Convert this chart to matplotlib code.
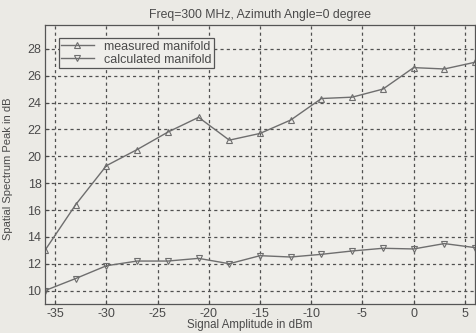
import matplotlib
matplotlib.use("Agg")
import matplotlib.pyplot as plt

plt.rcParams['font.family'] = ['Liberation Sans', 'DejaVu Sans']

amplitude = [-36, -33, -30, -27, -24, -21, -18, -15, -12, -9, -6, -3, 0, 3, 6]
measured = [13.0, 16.4, 19.3, 20.5, 21.8, 22.9, 21.2, 21.7, 22.7, 24.3, 24.4, 25.0, 26.6, 26.5, 27.0]
calculated = [10.0, 10.9, 11.85, 12.2, 12.2, 12.4, 12.0, 12.6, 12.5, 12.7, 12.95, 13.15, 13.1, 13.5, 13.2]
xticks = [-35, -30, -25, -20, -15, -10, -5, 0, 5]
yticks = [10, 12, 14, 16, 18, 20, 22, 24, 26, 28]

bg = '#ebeae5'
line_c = '#6e6e6e'
text_c = '#4a4a4a'

fig = plt.figure(figsize=(4.76, 3.33), dpi=100, facecolor=bg)
ax = fig.add_axes([0.0945, 0.087, 0.9035, 0.839], facecolor='#efeeea')

ax.plot(amplitude, measured, color=line_c, lw=1.0, marker='^', ms=4,
        mfc='none', mec=line_c, mew=0.8, label='measured manifold')
ax.plot(amplitude, calculated, color=line_c, lw=1.0, marker='v', ms=4,
        mfc='none', mec=line_c, mew=0.8, label='calculated manifold')

ax.set_xlim(-36, 6)
ax.set_ylim(9, 29.8)
ax.set_xticks(xticks)
ax.set_yticks(yticks)
ax.set_xticklabels([str(t) for t in xticks])
ax.set_yticklabels([str(t) for t in yticks])
ax.grid(True, color='#505050', linestyle=(0, (2.5, 2.5)), lw=0.9)
ax.tick_params(labelsize=9, colors=text_c, length=3, direction='in', pad=2.5)
for s in ax.spines.values():
    s.set_color('#555555')
    s.set_linewidth(0.9)

ax.set_title('Freq=300 MHz, Azimuth Angle=0 degree', fontsize=8.8, color=text_c, pad=5)
ax.set_xlabel('Signal Amplitude in dBm', fontsize=8.3, color=text_c)
ax.xaxis.set_label_coords(0.476, -0.055, transform=ax.transAxes)
ax.xaxis.label.set_va('top')
ax.set_ylabel('Spatial Spectrum Peak in dB', fontsize=8, color=text_c)
ax.yaxis.set_label_coords(-0.075, 0.484)

leg = ax.legend(loc='upper left', bbox_to_anchor=(0.032, 0.952), fontsize=9,
                frameon=True, fancybox=False, borderpad=0.2, labelspacing=0.08,
                handlelength=2.6, handletextpad=0.8, borderaxespad=0)
leg.get_frame().set_edgecolor('#555555')
leg.get_frame().set_facecolor('#efeeea')
leg.get_frame().set_linewidth(0.9)
leg.get_frame().set_alpha(1)
for t in leg.get_texts():
    t.set_color(text_c)

fig.savefig('out.png', dpi=100, facecolor=bg)
